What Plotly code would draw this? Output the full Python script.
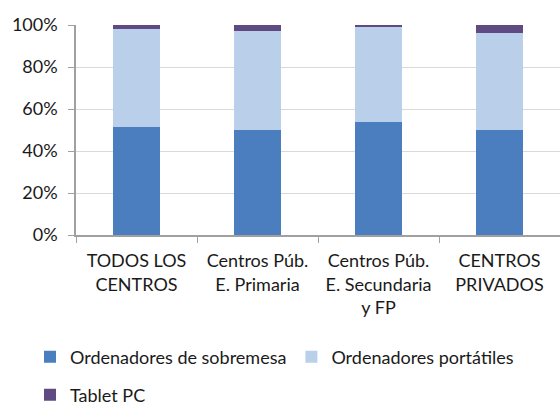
import plotly.graph_objects as go

categories = ["TODOS LOS<br>CENTROS", "Centros Púb.<br>E. Primaria", "Centros Púb.<br>E. Secundaria<br>y FP", "CENTROS<br>PRIVADOS"]
sobremesa = [51.6, 49.8, 53.8, 50.0]
portatiles = [46.3, 47.5, 45.6, 46.0]
tablet = [2.1, 2.7, 0.6, 4.0]
series_names = ["Ordenadores de sobremesa", "Ordenadores portátiles", "Tablet PC"]
colors = ["#4A7EBF", "#B9CFEA", "#604A82"]
y_ticks = [0, 20, 40, 60, 80, 100]
y_labels = ["0%", "20%", "40%", "60%", "80%", "100%"]

FONT = "Lato"
FS = 18
fig = go.Figure()
for name, vals, col, lg in zip(series_names, [sobremesa, portatiles, tablet], colors, ["legend", "legend", "legend2"]):
    fig.add_trace(go.Bar(x=categories, y=vals, name=name, marker=dict(color=col, line=dict(width=0)), legend=lg))

W, H = 560, 405
fig.update_layout(
    width=W, height=H,
    barmode="stack", bargap=0.604,
    margin=dict(l=76, r=0, t=25, b=170, autoexpand=False),
    plot_bgcolor="white", paper_bgcolor="white",
    font=dict(family=FONT, size=FS, color="#1a1a1a"),
    xaxis=dict(showline=True, linecolor="#a0a0a0", linewidth=1.5, ticks="outside", ticklen=6,
               tickcolor="#a0a0a0", tickson="boundaries", showgrid=False, automargin=False,
               ticklabelstandoff=9,
               tickfont=dict(family=FONT, size=FS, color="#1a1a1a")),
    yaxis=dict(range=[0, 100], tickvals=y_ticks, ticktext=y_labels, showline=True, linecolor="#a0a0a0",
               linewidth=1.5, ticks="outside", ticklen=6, tickcolor="#a0a0a0", showgrid=True,
               gridcolor="#d9d9d9", gridwidth=1, zeroline=False, automargin=False,
               ticklabelstandoff=7,
               tickfont=dict(family=FONT, size=FS, color="#1a1a1a")),
    legend=dict(orientation="h", x=30 / W, y=1 - 357 / H, xref="container", yref="container",
                xanchor="left", yanchor="middle", font=dict(family=FONT, size=FS, color="#1a1a1a"),
                itemwidth=30, traceorder="normal"),
    legend2=dict(orientation="h", x=30 / W, y=1 - 395 / H, xref="container", yref="container",
                 xanchor="left", yanchor="middle", font=dict(family=FONT, size=FS, color="#1a1a1a"),
                 itemwidth=30),
)
fig.write_html("out.html", config={"displayModeBar": False},
               post_script="document.body.style.margin='0';document.body.style.overflow='hidden';")
